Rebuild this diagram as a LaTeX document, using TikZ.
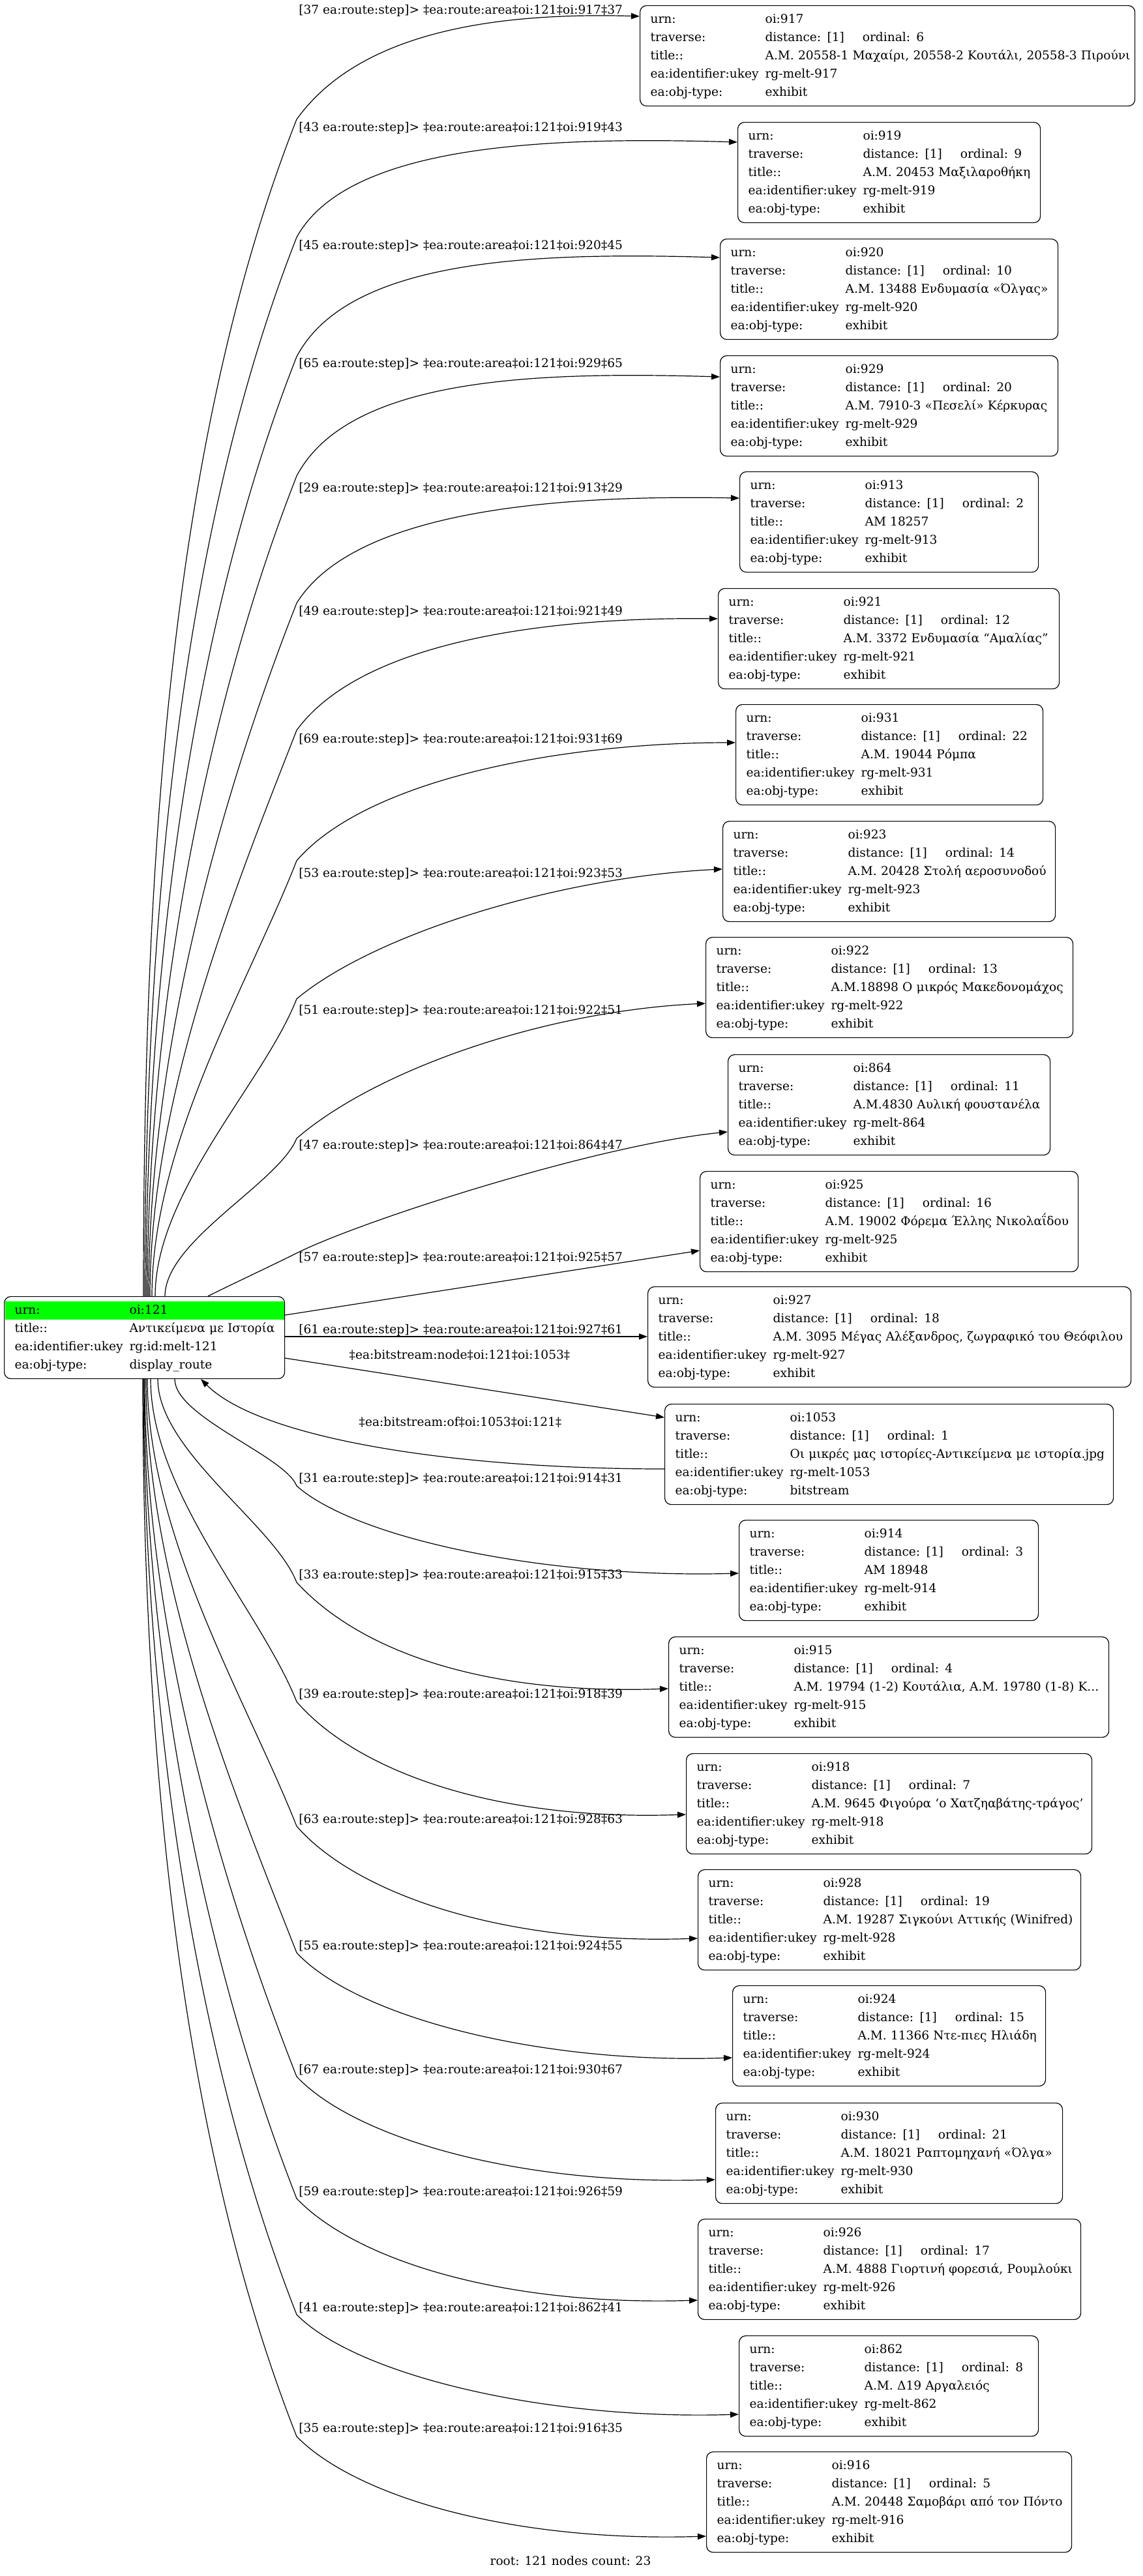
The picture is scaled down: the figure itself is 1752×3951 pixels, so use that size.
\documentclass[tikz,border=0pt]{standalone}
\usepackage{fontspec}
\setmainfont{DejaVu Serif}
\usepackage{colortbl}
\usetikzlibrary{arrows.meta,calc}
\definecolor{hl}{HTML}{00FF00}
\definecolor{fg}{HTML}{000000}
\newcolumntype{K}{>{\hspace{1.5pt}}l<{\hspace{1.5pt}}}
\newcommand{\oitable}[5]{\noindent\begin{tabular}{@{\hspace{6.5pt}}K@{\hspace{2pt}}K@{}}
urn: & oi:#1\\
traverse: & distance: [1]\hspace{14pt}ordinal: #2\\
title:: & #3\\
ea:identifier:ukey & #4\\
ea:obj-type: & #5
\end{tabular}}
\tikzset{
  item/.style={draw=fg, line width=0.6pt, rounded corners=5pt, anchor=north west, inner xsep=0pt, inner ysep=3.5pt, align=left},
  lbl/.style={inner sep=0pt, anchor=west},
  link/.style={draw=fg, line width=0.6pt, -{Triangle[length=6.5pt,width=4.6pt]}},
}
\begin{document}
\begin{tikzpicture}[x=0.5pt, y=-0.5pt, font=\fontsize{9.3}{14}\selectfont]
  \useasboundingbox (0,0) rectangle (1752,3951);

  \node[item, text width=215pt] (r) at (6,1988) {\noindent\begin{tabular}{@{\hspace{6.5pt}}K@{\hspace{2pt}}K@{}}
  \cellcolor{hl}urn: & \cellcolor{hl}oi:121\\
  title:: & Αντικείμενα με Ιστορία\\
  ea:identifier:ukey & rg:id:melt-121\\
  ea:obj-type: & display\_route
  \end{tabular}};

  \node[item, text width=379.5pt] (n917) at (981,8) {\oitable{917}{6}{Α.Μ. 20558-1 Μαχαίρι, 20558-2 Κουτάλι, 20558-3 Πιρούνι}{rg-melt-917}{exhibit}};
  \node[item, text width=232pt] (n919) at (1131,187) {\oitable{919}{9}{Α.Μ. 20453 Μαξιλαροθήκη}{rg-melt-919}{exhibit}};
  \node[item, text width=259pt] (n920) at (1104,366) {\oitable{920}{10}{Α.Μ. 13488 Ενδυμασία «Όλγας»}{rg-melt-920}{exhibit}};
  \node[item, text width=259pt] (n929) at (1104,545) {\oitable{929}{20}{Α.Μ. 7910-3 «Πεσελί» Κέρκυρας}{rg-melt-929}{exhibit}};
  \node[item, text width=229pt] (n913) at (1134,723) {\oitable{913}{2}{ΑΜ 18257}{rg-melt-913}{exhibit}};
  \node[item, text width=261.5pt] (n921) at (1101,902) {\oitable{921}{12}{Α.Μ. 3372 Ενδυμασία “Αμαλίας”}{rg-melt-921}{exhibit}};
  \node[item, text width=235.5pt] (n931) at (1128,1080) {\oitable{931}{22}{Α.Μ. 19044 Ρόμπα}{rg-melt-931}{exhibit}};
  \node[item, text width=255pt] (n923) at (1108,1259) {\oitable{923}{14}{Α.Μ. 20428 Στολή αεροσυνοδού}{rg-melt-923}{exhibit}};
  \node[item, text width=281.5pt] (n922) at (1082,1437) {\oitable{922}{13}{Α.Μ.18898 Ο μικρός Μακεδονομάχος}{rg-melt-922}{exhibit}};
  \node[item, text width=247pt] (n864) at (1116,1617) {\oitable{864}{11}{Α.Μ.4830 Αυλική φουστανέλα}{rg-melt-864}{exhibit}};
  \node[item, text width=290pt] (n925) at (1073,1796) {\oitable{925}{16}{Α.Μ. 19002 Φόρεμα Έλλης Νικολαΐδου}{rg-melt-925}{exhibit}};
  \node[item, text width=370.5pt] (n927) at (993,1973) {\oitable{927}{18}{Α.Μ. 3095 Μέγας Αλέξανδρος, ζωγραφικό του Θεόφιλου}{rg-melt-927}{exhibit}};
  \node[item, text width=344pt] (n1053) at (1019,2153) {\oitable{1053}{1}{Οι μικρές μας ιστορίες-Αντικείμενα με ιστορία.jpg}{rg-melt-1053}{bitstream}};
  \node[item, text width=229.5pt] (n914) at (1133,2331) {\oitable{914}{3}{ΑΜ 18948}{rg-melt-914}{exhibit}};
  \node[item, text width=337.5pt] (n915) at (1025,2510) {\oitable{915}{4}{Α.Μ. 19794 (1-2) Κουτάλια, Α.Μ. 19780 (1-8) Κ...}{rg-melt-915}{exhibit}};
  \node[item, text width=311pt] (n918) at (1052,2689) {\oitable{918}{7}{Α.Μ. 9645 Φιγούρα ‘ο Χατζηαβάτης-τράγος’}{rg-melt-918}{exhibit}};
  \node[item, text width=293.5pt] (n928) at (1070,2867) {\oitable{928}{19}{Α.Μ. 19287 Σιγκούνι Αττικής (Winifred)}{rg-melt-928}{exhibit}};
  \node[item, text width=240pt] (n924) at (1123,3045) {\oitable{924}{15}{Α.Μ. 11366 Ντε-πιες Ηλιάδη}{rg-melt-924}{exhibit}};
  \node[item, text width=266pt] (n930) at (1097,3225) {\oitable{930}{21}{Α.Μ. 18021 Ραπτομηχανή «Όλγα»}{rg-melt-930}{exhibit}};
  \node[item, text width=293.5pt] (n926) at (1070,3403) {\oitable{926}{17}{Α.Μ. 4888 Γιορτινή φορεσιά, Ρουμλούκι}{rg-melt-926}{exhibit}};
  \node[item, text width=229.5pt] (n862) at (1133,3582) {\oitable{862}{8}{Α.Μ. Δ19 Αργαλειός}{rg-melt-862}{exhibit}};
  \node[item, text width=280pt] (n916) at (1083,3760) {\oitable{916}{5}{Α.Μ. 20448 Σαμοβάρι από τον Πόντο}{rg-melt-916}{exhibit}};

  \node[lbl] (l37) at (458,16) {[37 ea:route:step]> ‡ea:route:area‡oi:121‡oi:917‡37};
  \node[lbl] (l43) at (458,196) {[43 ea:route:step]> ‡ea:route:area‡oi:121‡oi:919‡43};
  \node[lbl] (l45) at (458,377) {[45 ea:route:step]> ‡ea:route:area‡oi:121‡oi:920‡45};
  \node[lbl] (l65) at (458,558) {[65 ea:route:step]> ‡ea:route:area‡oi:121‡oi:929‡65};
  \node[lbl] (l29) at (458,749) {[29 ea:route:step]> ‡ea:route:area‡oi:121‡oi:913‡29};
  \node[lbl] (l49) at (458,938) {[49 ea:route:step]> ‡ea:route:area‡oi:121‡oi:921‡49};
  \node[lbl] (l69) at (458,1134) {[69 ea:route:step]> ‡ea:route:area‡oi:121‡oi:931‡69};
  \node[lbl] (l53) at (458,1340) {[53 ea:route:step]> ‡ea:route:area‡oi:121‡oi:923‡53};
  \node[lbl] (l51) at (458,1550) {[51 ea:route:step]> ‡ea:route:area‡oi:121‡oi:922‡51};
  \node[lbl] (l47) at (458,1757) {[47 ea:route:step]> ‡ea:route:area‡oi:121‡oi:864‡47};
  \node[lbl] (l57) at (458,1929) {[57 ea:route:step]> ‡ea:route:area‡oi:121‡oi:925‡57};
  \node[lbl] (l61) at (458,2040) {[61 ea:route:step]> ‡ea:route:area‡oi:121‡oi:927‡61};
  \node (lnode) at (705,2078) {‡ea:bitstream:node‡oi:121‡oi:1053‡};
  \node (lof) at (706,2181) {‡ea:bitstream:of‡oi:1053‡oi:121‡};
  \node[lbl] (l31) at (458,2268) {[31 ea:route:step]> ‡ea:route:area‡oi:121‡oi:914‡31};
  \node[lbl] (l33) at (458,2416) {[33 ea:route:step]> ‡ea:route:area‡oi:121‡oi:915‡33};
  \node[lbl] (l39) at (458,2599) {[39 ea:route:step]> ‡ea:route:area‡oi:121‡oi:918‡39};
  \node[lbl] (l63) at (458,2791) {[63 ea:route:step]> ‡ea:route:area‡oi:121‡oi:928‡63};
  \node[lbl] (l55) at (458,2985) {[55 ea:route:step]> ‡ea:route:area‡oi:121‡oi:924‡55};
  \node[lbl] (l67) at (458,3175) {[67 ea:route:step]> ‡ea:route:area‡oi:121‡oi:930‡67};
  \node[lbl] (l59) at (458,3362) {[59 ea:route:step]> ‡ea:route:area‡oi:121‡oi:926‡59};
  \node[lbl] (l41) at (458,3540) {[41 ea:route:step]> ‡ea:route:area‡oi:121‡oi:862‡41};
  \node[lbl] (l35) at (458,3725) {[35 ea:route:step]> ‡ea:route:area‡oi:121‡oi:916‡35};
  \node (foot) at (875,3928) {root: 121 nodes count: 23};

  \draw[link] ($(r.north west)+(214,0)$) .. controls +(0,-632) and +(-199,505) .. (455,183) .. controls +(80,-111) and +(-280,-8) .. ($(n917.north west)+(0,17)$);
  \draw[link] ($(r.north west)+(216,0)$) .. controls +(0,-568) and +(-179,455) .. (455,364) .. controls +(80,-146) and +(-280,-8) .. ($(n919.north west)+(0,31)$);
  \draw[link] ($(r.north west)+(218,0)$) .. controls +(0,-504) and +(-159,403) .. (455,547) .. controls +(80,-152) and +(-280,-8) .. ($(n920.north west)+(0,29)$);
  \draw[link] ($(r.north west)+(220,0)$) .. controls +(0,-440) and +(-138,352) .. (455,730) .. controls +(80,-152) and +(-280,-8) .. ($(n929.north west)+(0,33)$);
  \draw[link] ($(r.north west)+(222,0)$) .. controls +(0,-372) and +(-117,298) .. (455,925) .. controls +(90,-145) and +(-270,-5) .. ($(n913.north west)+(0,41)$);
  \draw[link] ($(r.north west)+(224,0)$) .. controls +(0,-304) and +(-95,243) .. (455,1120) .. controls +(100,-137) and +(-260,-3) .. ($(n921.north west)+(0,47)$);
  \draw[link] ($(r.north west)+(227,0)$) .. controls +(0,-234) and +(-73,187) .. (455,1320) .. controls +(110,-127) and +(-260,0) .. ($(n931.north west)+(0,59)$);
  \draw[link] ($(r.north west)+(232,0)$) .. controls +(0,-160) and +(-50,128) .. (455,1532) .. controls +(120,-100) and +(-250,12) .. ($(n923.north west)+(0,74)$);
  \draw[link] ($(r.north west)+(247,0)$) .. controls +(0,-85) and +(-27,68) .. (455,1746) .. controls +(120,-104) and +(-250,12) .. ($(n922.north west)+(0,102)$);
  \draw[link] ($(r.north west)+(313,0)$) .. controls +(40,-20) and +(-40,20) .. (455,1922) .. controls +(100,-50) and +(-200,20) .. ($(n864.north west)+(0,119)$);
  \draw[link] ($(r.north east)+(0,29)$) -- ($(n925.north west)+(0,122)$);
  \draw[link] ($(r.north east)+(0,62)$) -- ($(n927.north west)+(0,77)$);
  \draw[link] ($(r.north east)+(0,95)$) -- ($(n1053.north west)+(0,21)$);
  \draw[link] ($(n1053.north west)+(0,100)$) .. controls +(-330,0) and +(90,90) .. ($(r.south west)+(302,0)$);

  \draw[link] ($(r.south west)+(262,0)$) .. controls +(0,58) and +(-18,-46) .. (455,2279) .. controls +(90,80) and +(-300,8) .. ($(n914.north west)+(0,82)$);
  \draw[link] ($(r.south west)+(236,0)$) .. controls +(0,110) and +(-34,-88) .. (455,2427) .. controls +(90,98) and +(-300,10) .. ($(n915.north west)+(0,80)$);
  \draw[link] ($(r.south west)+(225,0)$) .. controls +(0,174) and +(-55,-139) .. (455,2610) .. controls +(90,104) and +(-300,10) .. ($(n918.north west)+(0,94)$);
  \draw[link] ($(r.south west)+(220,0)$) .. controls +(0,240) and +(-76,-192) .. (455,2801) .. controls +(90,103) and +(-300,10) .. ($(n928.north west)+(0,106)$);
  \draw[link] ($(r.south west)+(218,0)$) .. controls +(0,308) and +(-97,-247) .. (455,2995) .. controls +(90,97) and +(-300,10) .. ($(n924.north west)+(0,111)$);
  \draw[link] ($(r.south west)+(216,0)$) .. controls +(0,375) and +(-118,-300) .. (455,3185) .. controls +(90,95) and +(-300,9) .. ($(n930.north west)+(0,118)$);
  \draw[link] ($(r.south west)+(215,0)$) .. controls +(0,440) and +(-138,-352) .. (455,3372) .. controls +(90,94) and +(-300,9) .. ($(n926.north west)+(0,125)$);
  \draw[link] ($(r.south west)+(214,0)$) .. controls +(0,503) and +(-158,-402) .. (455,3550) .. controls +(90,92) and +(-300,9) .. ($(n862.north west)+(0,121)$);
  \draw[link] ($(r.south west)+(213,0)$) .. controls +(0,568) and +(-179,-454) .. (455,3737) .. controls +(90,92) and +(-300,9) .. ($(n916.north west)+(0,130)$);
\end{tikzpicture}
\end{document}
